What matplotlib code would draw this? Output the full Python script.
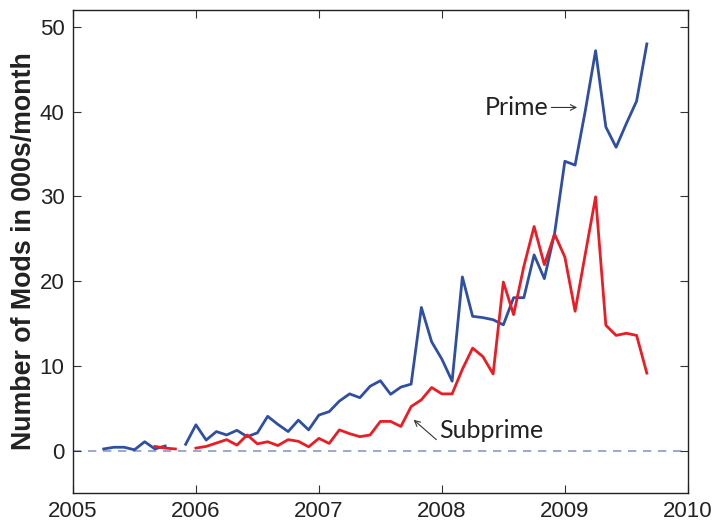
import numpy as np
import matplotlib
matplotlib.use("Agg")
import matplotlib.pyplot as plt

nan = np.nan

# monthly values, Apr 2005 .. Sep 2009 (thousands of mods per month)
start_year = 2005
start_month = 4

prime = [0.2, 0.4, 0.4, 0.1, 1.05, 0.2, 0.55, nan, 0.75,                  # 2005 Apr-Dec
         3.05, 1.25, 2.25, 1.85, 2.4, 1.65, 2.1, 4.05, 3.1, 2.25, 3.6, 2.45,  # 2006
         4.2, 4.6, 5.85, 6.7, 6.25, 7.6, 8.25, 6.65, 7.5, 7.85, 16.9, 12.85,  # 2007
         10.8, 8.2, 20.5, 15.85, 15.7, 15.45, 14.85, 18.05, 18.05, 23.1, 20.3, 25.65,  # 2008
         34.15, 33.7, 40.15, 47.2, 38.2, 35.8, 38.6, 41.25, 48.0]          # 2009 Jan-Sep

subprime = [nan, nan, nan, 0.1, nan, 0.5, 0.3, 0.2, nan,
            0.3, 0.5, 0.9, 1.3, 0.65, 1.85, 0.8, 1.05, 0.6, 1.3, 1.1, 0.45,
            1.45, 0.85, 2.45, 2.0, 1.65, 1.85, 3.45, 3.45, 2.85, 5.2, 6.0, 7.45,
            6.7, 6.7, 9.6, 12.1, 11.1, 9.05, 19.9, 16.05, 21.75, 26.45, 21.95, 25.55,
            22.85, 16.45, 23.25, 29.95, 14.8, 13.6, 13.85, 13.6, 9.15]

months = np.arange(len(prime))
t = start_year + (start_month - 1 + months) / 12.0

plt.rcParams['font.family'] = ['Liberation Sans', 'DejaVu Sans']

fig = plt.figure(figsize=(7.15, 5.27), dpi=100)
ax = fig.add_axes([0.102, 0.0645, 0.86, 0.9165])

ax.axhline(0, color='#8a98d2', lw=1.2, ls=(0, (5, 4)), zorder=1)
ax.plot(t, prime, color='#2f4fa2', lw=2.0, zorder=2)
ax.plot(t, subprime, color='#ec1c24', lw=2.0, zorder=3)

ax.set_xlim(2005, 2010)
ax.set_ylim(-5, 52)
ax.set_xticks([2005, 2006, 2007, 2008, 2009, 2010])
ax.set_yticks([0, 10, 20, 30, 40, 50])
ax.tick_params(direction='in', top=True, right=True, labelsize=16, length=6,
               width=0.8, colors='#333333', labelcolor='#222222', pad=6)
for s in ax.spines.values():
    s.set_linewidth(1.0)
    s.set_color('#222222')

ax.set_ylabel('Number of Mods in 000s/month', fontsize=19.3, fontweight='bold',
              color='#222222', labelpad=2)

# annotations: text and arrows drawn separately
ann_font = ['Lato', 'DejaVu Sans']
ax.text(2008.35, 40.5, 'Prime', fontsize=18, family=ann_font, color='#222222',
        va='center', ha='left')
ax.annotate('', xy=(2009.10, 40.5), xytext=(2008.89, 40.5),
            arrowprops=dict(arrowstyle='->', lw=0.8, color='#333333',
                            shrinkA=0, shrinkB=0))
ax.text(2007.975, 2.4, 'Subprime', fontsize=18, family=ann_font, color='#222222',
        va='center', ha='left')
ax.annotate('', xy=(2007.77, 3.64), xytext=(2007.955, 1.3),
            arrowprops=dict(arrowstyle='->', lw=0.8, color='#333333',
                            shrinkA=0, shrinkB=0))

fig.savefig('out.png', dpi=100)
